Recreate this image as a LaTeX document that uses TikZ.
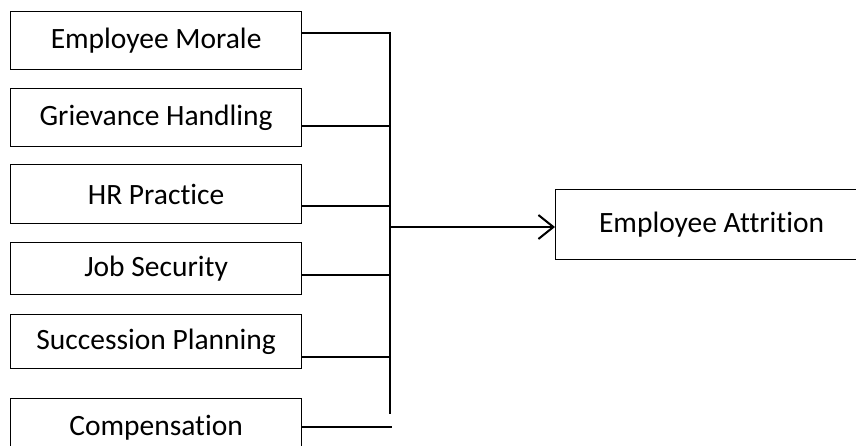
\documentclass[tikz,border=0pt]{standalone}
\usepackage{fontspec}
\setmainfont{Carlito}[Ligatures={NoCommon}]
\usetikzlibrary{arrows.meta}
\begin{document}
\begin{tikzpicture}[x=1pt,y=-1pt,
  factor/.style={draw, line width=1.2pt, rectangle, minimum width=291pt, minimum height=#1, anchor=north west, inner sep=0pt, font=\fontsize{29.5}{34}\selectfont},
  factor/.default=58pt,
  link/.style={line width=1.3pt},
  arr/.style={line width=2pt, -{Straight Barb[length=15pt,width=24pt,line width=2pt]}}]
\useasboundingbox (0,0) rectangle (856,446);
\clip (0,0) rectangle (856,446);
\node[factor=58pt] (b1) at (10,11) {Employee Morale};
\node[factor=58pt] (b2) at (10,88) {Grievance Handling};
\node[factor=59pt] (b3) at (10,164) {HR Practice};
\node[factor=52pt] (b4) at (10,242) {Job Security};
\node[factor=54pt] (b5) at (10,314) {Succession Planning};
\node[factor=58pt] (b6) at (10,398) {Compensation};
\node[draw, line width=1.2pt, rectangle, minimum width=312pt, minimum height=70pt, anchor=north west, inner sep=0pt, font=\fontsize{29.5}{34}\selectfont] (out) at (555,189) {\raisebox{3pt}{Employee Attrition}};
\coordinate (top) at (390,33);
\coordinate (bot) at (390,414);
\coordinate (j) at (390,227);
\coordinate (e6) at (392,427);
\draw[link] (b1.north east |- top) -- (top) -- (bot);
\draw[link] (b2.east |- 0,126) -- (390,126);
\draw[link] (b3.east |- 0,206) -- (390,206);
\draw[link] (b4.east |- 0,275) -- (390,275);
\draw[link] (b5.east |- 0,357) -- (390,357);
\draw[link] (b6.east |- e6) -- (e6);
\draw[arr] (j) -- (out.west |- j);
\end{tikzpicture}
\end{document}
